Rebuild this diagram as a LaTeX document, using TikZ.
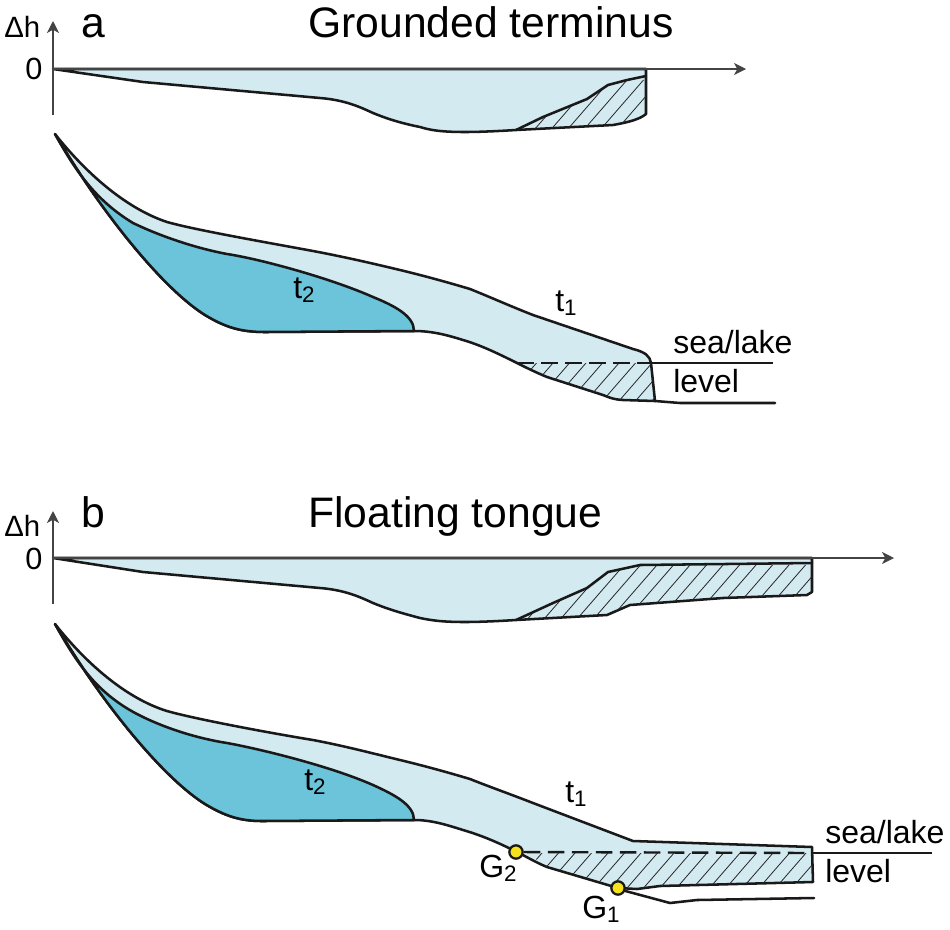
\documentclass[tikz,border=0pt]{standalone}
\usepackage{fontspec}
\setmainfont{Liberation Sans}
\usetikzlibrary{arrows.meta}
\definecolor{icelight}{HTML}{D3EAF1}
\definecolor{icedark}{HTML}{6BC4D9}
\definecolor{axisgray}{HTML}{444444}
\definecolor{markyellow}{HTML}{F6E21C}
\tikzset{
  outline/.style={draw=black!90,line width=1.9pt,line join=round,line cap=round},
  iceold/.style={outline,fill=icelight},
  icenew/.style={outline,fill=icedark},
  hatchline/.style={draw=black!85,line width=0.6pt},
  axisline/.style={draw=axisgray,line width=0.8pt,-{Stealth[length=9pt,width=9pt,inset=2.5pt]}},
  waterline/.style={draw=black!90,line width=1.8pt},
  waterdash/.style={waterline,dash pattern=on 12.5pt off 5.5pt},
  titletext/.style={anchor=base west,inner sep=0pt,font=\fontsize{32}{38}\selectfont},
  labeltext/.style={anchor=base west,inner sep=0pt,font=\fontsize{24}{28}\selectfont},
  axistext/.style={anchor=base west,inner sep=0pt,font=\fontsize{23}{28}\selectfont},
  groundpt/.style={circle,draw=black!90,fill=markyellow,line width=1.7pt,minimum size=10pt,inner sep=0pt}
}
% parallel lines of a hatched area, rising to the right from the row y=#1
\newcommand{\hatchrow}[3]{%
  \foreach \hx in {#2,...,#3} {
    \draw[hatchline] (\hx,#1) -- (\hx-100,#1+115);
  }
}
\begin{document}
\begin{tikzpicture}[x=0.75pt,y=0.75pt,yscale=-1,xscale=1]
    \useasboundingbox (0,0) rectangle (950,929);

    % Panel a, profile of change
    \draw[iceold] (53,69) -- (143,82) -- (320,98) .. controls (345,100) and (360,107) .. (373,113)
      .. controls (390,120) and (405,124) .. (420,127) .. controls (430,130) and (440,132) .. (465,132)
      .. controls (480,132) and (500,131) .. (516,130) -- (613,125) .. controls (630,122) and (640,119) .. (646,114)
      -- (646,69) -- cycle;
    \begin{scope}
      \clip (516,130) -- (543,117) -- (587,99) -- (608,85) -- (627,80) -- (646,76) -- (646,114)
        .. controls (640,119) and (630,122) .. (613,125) -- cycle;
      \hatchrow{80}{528,544.5}{710}
    \end{scope}
    \draw[outline] (516,130) -- (543,117) -- (587,99) -- (608,85) -- (627,80) -- (646,76);

    % Panel a, glacier
    \draw[iceold] (55,134) .. controls (85,172) and (125,208) .. (167,222)
      .. controls (195,230) and (270,243) .. (313,251) .. controls (345,257) and (375,264) .. (400,270)
      .. controls (425,276) and (450,283) .. (470,289) .. controls (490,297) and (510,306) .. (533,315)
      -- (633,349) .. controls (645,352) and (650,356) .. (651,363) -- (655,401) -- (623,400)
      .. controls (612,399.5) and (606,396) .. (603,395) -- (547,377) .. controls (535,372) and (527,368) .. (517,363)
      .. controls (495,352) and (480,345) .. (463,340) .. controls (447,335) and (432,331) .. (414,331)
      -- (265,332) .. controls (240,332) and (225,327) .. (205,315) .. controls (165,290) and (105,218) .. (55,134) -- cycle;
    \draw[icenew] (55,134) .. controls (75,170) and (95,200) .. (133,223) .. controls (160,236) and (195,248) .. (227,254)
      .. controls (260,259) and (330,278) .. (373,297) .. controls (395,306) and (414,316) .. (414,331)
      -- (265,332) .. controls (240,332) and (225,327) .. (205,315) .. controls (165,290) and (105,218) .. (55,134) -- cycle;
    \begin{scope}
      \clip (517,363) -- (651,363) -- (655,401) -- (623,400) .. controls (612,399.5) and (606,396) .. (603,395)
        -- (547,377) .. controls (535,372) and (527,368) .. (517,363) -- cycle;
      \hatchrow{363}{536.5,553}{700}
    \end{scope}
    \coordinate (levelAin) at (517,363);
    \coordinate (levelAfront) at (651,363);
    \coordinate (levelAend) at (773,363);
    \coordinate (bedAfront) at (655,401);
    \coordinate (bedAend) at (775,403);
    \draw[waterdash] (levelAin) -- (levelAfront);
    \draw[waterline] (levelAfront) -- (levelAend);
    \draw[outline] (bedAfront) -- (680,403) -- (bedAend);

    % Panel b, profile of change
    \draw[iceold] (53,558) -- (143,572) -- (320,588) .. controls (345,590) and (360,597) .. (373,603)
      .. controls (390,610) and (405,614) .. (420,618) .. controls (430,620) and (440,622) .. (465,622)
      .. controls (480,622) and (500,621) .. (516,620) -- (607,615) -- (630,605) -- (723,598) -- (807,595)
      -- (812,592) -- (812,558) -- cycle;
    \begin{scope}
      \clip (516,620) -- (553,603) -- (587,588) -- (608,572) -- (640,565) -- (812,563) -- (812,592) -- (807,595)
        -- (723,598) -- (630,605) -- (607,615) -- cycle;
      \hatchrow{565}{541.5,558}{890}
    \end{scope}
    \draw[outline] (516,620) -- (553,603) -- (587,588) -- (608,572) -- (640,565) -- (812,563);

    % Panel b, glacier
    \draw[iceold] (55,624) .. controls (85,662) and (125,698) .. (167,711)
      .. controls (195,719) and (270,733) .. (313,740) .. controls (345,746) and (375,754) .. (400,760)
      .. controls (425,766) and (450,773) .. (470,779) .. controls (490,787) and (510,794) .. (533,803)
      -- (633,841) -- (812,847) -- (813,882) -- (660,886) -- (637,889) -- (618,888) -- (547,867)
      .. controls (535,862) and (527,857) .. (517,852) .. controls (495,841) and (480,835) .. (463,830)
      .. controls (447,825) and (432,820) .. (414,820) -- (262,821) .. controls (240,821) and (225,816) .. (205,804)
      .. controls (165,779) and (105,708) .. (55,624) -- cycle;
    \draw[icenew] (55,624) .. controls (75,660) and (95,692) .. (137,714) .. controls (162,727) and (195,738) .. (227,743)
      .. controls (260,749) and (330,766) .. (373,785) .. controls (395,795) and (414,805) .. (414,820)
      -- (262,821) .. controls (240,821) and (225,816) .. (205,804) .. controls (165,779) and (105,708) .. (55,624) -- cycle;
    \begin{scope}
      \clip (527,853) -- (812,853) -- (813,882) -- (660,886) -- (637,889) -- (618,888) -- (547,867) -- cycle;
      \hatchrow{853}{542,558.5}{890}
    \end{scope}
    \coordinate (levelBfront) at (812,853);
    \coordinate (levelBend) at (932,853);
    \coordinate (bedBend) at (814,898);
    \node[groundpt] (gtwo) at (516,852) {};
    \draw[waterdash] (gtwo) -- (levelBfront);
    \draw[waterline] (levelBfront) -- (levelBend);
    \draw[outline] (618,889) -- (670,903) -- (697,900) -- (bedBend);
    \node[groundpt] (gone) at (618,888) {};

    % Axes
    \coordinate (originA) at (53,69);
    \coordinate (xendA) at (746,69);
    \coordinate (ybotA) at (53,115);
    \coordinate (ytopA) at (53,21);
    \coordinate (originB) at (53,558);
    \coordinate (xendB) at (894,558);
    \coordinate (ybotB) at (53,604);
    \coordinate (ytopB) at (53,511);
    \draw[axisline] (originA) -- (xendA);
    \draw[axisline] (ybotA) -- (ytopA);
    \draw[axisline] (originB) -- (xendB);
    \draw[axisline] (ybotB) -- (ytopB);

    % Text Node
    \node[axistext,font=\fontsize{22}{28}\selectfont] (dhA) at (4,37) {Δh};
    \node[axistext] (zeroA) at (25,79) {0};
    \node[titletext] (panelA) at (81,37) {a};
    \node[titletext] (titleA) at (308,37) {Grounded terminus};
    \node[labeltext] (ttwoA) at (293,298) {t\textsubscript{2}};
    \node[labeltext] (toneA) at (555,311) {t\textsubscript{1}};
    \node[labeltext] (seaA) at (673,353) {sea/lake};
    \node[labeltext] (lvlA) at (673,392) {level};
    % Text Node
    \node[axistext,font=\fontsize{22}{28}\selectfont] (dhB) at (4,536) {Δh};
    \node[axistext] (zeroB) at (25,569) {0};
    \node[titletext] (panelB) at (81,527) {b};
    \node[titletext] (titleB) at (308,527) {Floating tongue};
    \node[labeltext] (ttwoB) at (304,790) {t\textsubscript{2}};
    \node[labeltext] (toneB) at (565,802) {t\textsubscript{1}};
    \node[labeltext] (seaB) at (825,843) {sea/lake};
    \node[labeltext] (lvlB) at (825,882) {level};
    \node[labeltext] (gtwotext) at (479,877) {G\textsubscript{2}};
    \node[labeltext] (gonetext) at (582,918) {G\textsubscript{1}};
\end{tikzpicture}
\end{document}
